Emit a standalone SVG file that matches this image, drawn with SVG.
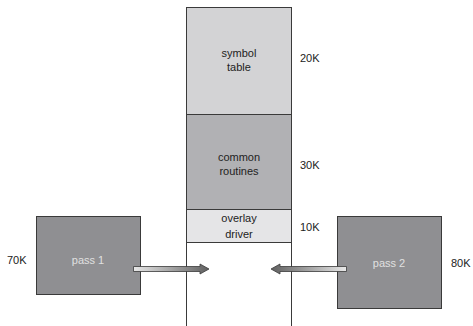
<svg xmlns="http://www.w3.org/2000/svg" width="473" height="326" viewBox="0 0 473 326">
<style>
text{font-family:"Liberation Sans",Arial,sans-serif;font-size:11px;fill:#222}
.c{text-anchor:middle}
.w{fill:#e0e0e0}
.box{stroke:#3a3a3a;stroke-width:1}
</style>
<defs>
<linearGradient id="gR" x1="0" y1="0" x2="1" y2="0">
<stop offset="0" stop-color="#e8e8e8"/><stop offset="1" stop-color="#606060"/>
</linearGradient>
<linearGradient id="gL" x1="1" y1="0" x2="0" y2="0">
<stop offset="0" stop-color="#e8e8e8"/><stop offset="1" stop-color="#606060"/>
</linearGradient>
</defs>
<rect width="473" height="326" fill="#fff"/>
<g id="memory">
<line x1="186.5" y1="7" x2="186.5" y2="326" stroke="#3a3a3a"/>
<line x1="291.5" y1="7" x2="291.5" y2="326" stroke="#3a3a3a"/>
</g>
<g id="symbol-table">
<rect class="box" x="186.5" y="7.5" width="105" height="107" fill="#d3d3d5"/>
<text class="c" x="239" y="57">symbol</text>
<text class="c" x="239" y="70.5">table</text>
<text x="300" y="62">20K</text>
</g>
<g id="common-routines">
<rect class="box" x="186.5" y="114.5" width="105" height="95" fill="#b1b1b4"/>
<text class="c" x="239" y="161">common</text>
<text class="c" x="239" y="174.5">routines</text>
<text x="300" y="169">30K</text>
</g>
<g id="overlay-driver">
<rect class="box" x="186.5" y="209.5" width="105" height="33" fill="#e5e5e7"/>
<text class="c" x="239" y="222">overlay</text>
<text class="c" x="239" y="238">driver</text>
<text x="300" y="231">10K</text>
</g>
<g id="pass1">
<rect class="box" x="36.5" y="216.5" width="104" height="78" fill="#8f8f92"/>
<text class="c w" x="88" y="264">pass 1</text>
<text x="7" y="264">70K</text>
</g>
<g id="pass2">
<rect class="box" x="337.5" y="216.5" width="104" height="92" fill="#8f8f92"/>
<text class="c w" x="389" y="267">pass 2</text>
<text x="451" y="267">80K</text>
</g>
<g id="connectors">
<path d="M133.5,266.5 H200 V264 L209,269 L200,274 V271.5 H133.5 Z" fill="url(#gR)" stroke="#3a3a3a" stroke-width="0.8"/>
<path d="M346.5,266.5 H280 V264 L271,269 L280,274 V271.5 H346.5 Z" fill="url(#gL)" stroke="#3a3a3a" stroke-width="0.8"/>
</g>
</svg>
